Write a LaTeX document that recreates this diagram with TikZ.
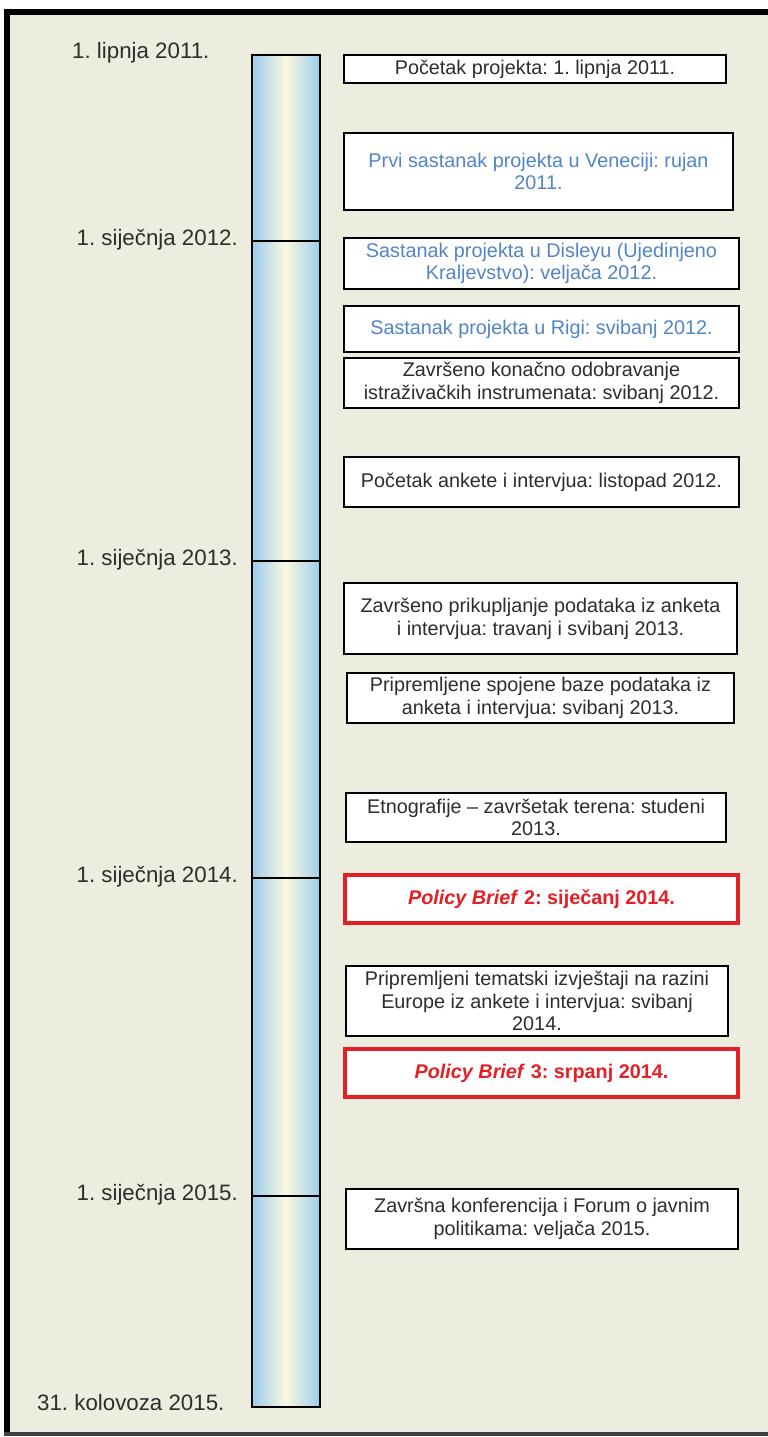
\documentclass[tikz,border=0pt]{standalone}
\usepackage{fontspec}
\setmainfont{Liberation Sans}
\usetikzlibrary{positioning}
\frenchspacing

\definecolor{panelbg}{RGB}{236,237,223}
\definecolor{barblue}{RGB}{155,204,236}
\definecolor{barcream}{RGB}{251,249,222}
\definecolor{textgray}{RGB}{45,45,45}
\definecolor{meetblue}{RGB}{82,132,200}
\definecolor{briefred}{RGB}{226,32,38}

\tikzset{
  timebar/.style={draw=black, line width=1.2pt, left color=barblue, right color=barblue, middle color=barcream, minimum width=68pt, minimum height=1352pt, inner sep=0pt},
  datelabel/.style={text=textgray, inner sep=0pt, font=\fontsize{22.3}{25}\selectfont},
  event/.style={draw=black, line width=1.4pt, fill=white, inner sep=0pt, align=center, text=textgray, font=\fontsize{19.8}{22.7}\selectfont},
  meeting/.style={event, text=meetblue},
  policy/.style={event, draw=briefred, line width=4pt, text=briefred, font=\fontsize{19.8}{22.7}\selectfont\bfseries}
}

\begin{document}
\begin{tikzpicture}[x=1pt, y=-1pt]
    \useasboundingbox (0,0) rectangle (768,1437);

    % Panel
    \fill[white] (0,0) rectangle (768,1437);
    \fill[panelbg] (7,12) rectangle (768,1434);
    \draw[line width=6pt, black] (7,9) -- (7,1436);
    \draw[line width=6pt, black] (4,12) -- (768,12);
    \draw[line width=4pt, black!75] (4,1434) -- (768,1434);

    % Time bar
    \node[timebar] (bar) at (286,731) {};

    % Start and end dates
    \node[datelabel, anchor=mid west] (date2011) at (72,56) {1. lipnja 2011.};
    \node[datelabel, anchor=mid west] (dateend) at (37,1407.5) {31. kolovoza 2015.};

    % Year ticks
    \foreach \yr/\ypos in {2012/241, 2013/561, 2014/878, 2015/1196} {
      \node[datelabel, anchor=mid east] (date\yr) at (238,\ypos+2) {1. siječnja \yr.};
      \coordinate (tick\yr) at (286,\ypos);
      \draw[line width=1.2pt, black] (bar.west |- tick\yr) -- (bar.east |- tick\yr);
    }

    % Events
    \node[event, minimum width=382pt, minimum height=28pt] (start) at (535,69) {Početak projekta: 1. lipnja 2011.};
    \node[meeting, minimum width=389pt, minimum height=77pt] (venice) at (538.5,171.5) {Prvi sastanak projekta u Veneciji: rujan\\2011.};
    \node[meeting, minimum width=395pt, minimum height=51pt] (disley) at (541.5,263.5) {Sastanak projekta u Disleyu (Ujedinjeno\\Kraljevstvo): veljača 2012.};
    \node[meeting, minimum width=395pt, minimum height=46pt] (riga) at (541.5,329) {Sastanak projekta u Rigi: svibanj 2012.};
    \node[event, minimum width=395pt, minimum height=50pt] (instruments) at (541.5,383) {Završeno konačno odobravanje\\istraživačkih instrumenata: svibanj 2012.};
    \node[event, minimum width=395pt, minimum height=50pt] (survey) at (541.5,482) {Početak ankete i intervjua: listopad 2012.};
    \node[event, minimum width=393pt, minimum height=71pt] (collected) at (540.5,618.5) {Završeno prikupljanje podataka iz anketa\\i intervjua: travanj i svibanj 2013.};
    \node[event, minimum width=387pt, minimum height=50pt] (databases) at (540.5,698) {Pripremljene spojene baze podataka iz\\anketa i intervjua: svibanj 2013.};
    \node[event, minimum width=380pt, minimum height=49pt] (ethno) at (536,817.5) {Etnografije – završetak terena: studeni\\2013.};
    \node[policy, minimum width=393pt, minimum height=48pt] (brief2) at (541.5,899) {\textit{Policy Brief} 2: siječanj 2014.};
    \node[event, minimum width=382pt, minimum height=70pt] (reports) at (537,1001) {Pripremljeni tematski izvještaji na razini\\Europe iz ankete i intervjua: svibanj\\2014.};
    \node[policy, minimum width=393pt, minimum height=48pt] (brief3) at (541.5,1073) {\textit{Policy Brief} 3: srpanj 2014.};
    \node[event, minimum width=392pt, minimum height=60pt] (final) at (542,1219) {Završna konferencija i Forum o javnim\\politikama: veljača 2015.};
  \end{tikzpicture}
\end{document}
